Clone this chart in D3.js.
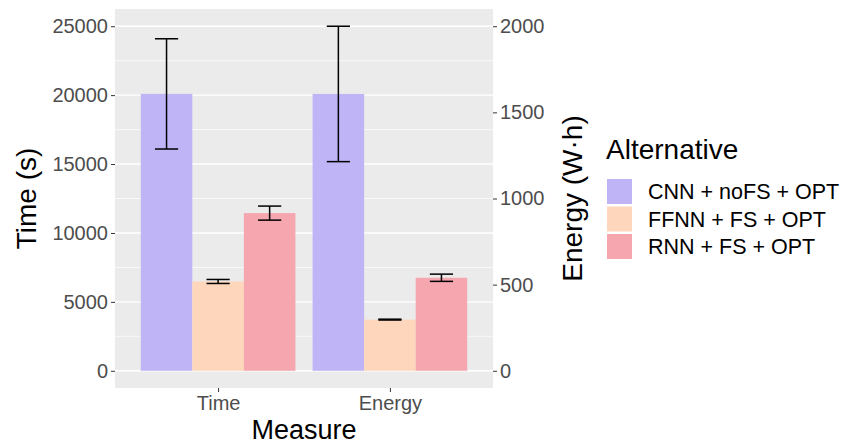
<!DOCTYPE html>
<html>
<head>
<meta charset="utf-8">
<script src="https://cdn.jsdelivr.net/npm/d3@7"></script>
<style>
  body { margin: 0; background: #fff; }
  svg { font-family: "Liberation Sans", Arial, sans-serif; }
</style>
</head>
<body>
<svg id="chart"></svg>
<script>
const width = 845,
      height = 445;

// panel box (pixels)
const PANEL = { LEFT: 115, RIGHT: 493, TOP: 9, BOTTOM: 388 };

// data
const measures = ["Time", "Energy"];
const alternatives = ["CNN + noFS + OPT", "FFNN + FS + OPT", "RNN + FS + OPT"];
const colours = ["#bfb4f6", "#fdd6bb", "#f5a6ae"];
const timeMean = [20090, 6480, 11440];   // seconds
const timeErr  = [4000, 145, 510];
const energyMean = [1607, 297, 540];     // W·h
const energyErr  = [393, 2.5, 21];
const timeTicks = [0, 5000, 10000, 15000, 20000, 25000];
const energyTicks = [0, 500, 1000, 1500, 2000];

const svg = d3.select("#chart").attr("width", width).attr("height", height);

// discrete x like ggplot: categories at 1,2 with 0.6 expansion
const x = d3.scaleLinear().domain([0.4, 2.6]).range([PANEL.LEFT, PANEL.RIGHT]);
const sub = d3.scaleBand().domain(alternatives).range([-0.45, 0.45]);
const yTime = d3.scaleLinear().domain([-1250, 26250]).range([PANEL.BOTTOM, PANEL.TOP]);
const yEnergy = d3.scaleLinear().domain([-100, 2100]).range([PANEL.BOTTOM, PANEL.TOP]);

// panel background + grid
svg.append("rect")
    .attr("x", PANEL.LEFT).attr("y", PANEL.TOP)
    .attr("width", PANEL.RIGHT - PANEL.LEFT).attr("height", PANEL.BOTTOM - PANEL.TOP)
    .attr("fill", "#ebebeb");

const minor = d3.range(2500, 25000, 5000);
svg.append("g").selectAll("line").data(minor).enter().append("line")
    .attr("x1", PANEL.LEFT).attr("x2", PANEL.RIGHT)
    .attr("y1", d => yTime(d)).attr("y2", d => yTime(d))
    .attr("stroke", "#fff").attr("stroke-width", 0.7);
svg.append("g").selectAll("line").data(timeTicks).enter().append("line")
    .attr("x1", PANEL.LEFT).attr("x2", PANEL.RIGHT)
    .attr("y1", d => yTime(d)).attr("y2", d => yTime(d))
    .attr("stroke", "#fff").attr("stroke-width", 1.4);

// rows: one per bar, energy mapped through its own scale
const rows = [];
measures.forEach((m, i) => {
    alternatives.forEach((a, j) => {
        const isTime = m === "Time";
        rows.push({
            measure: m, alt: a, colour: colours[j],
            cx: i + 1 + sub(a) + sub.bandwidth() / 2,
            x0: i + 1 + sub(a),
            y: isTime ? yTime : yEnergy,
            mean: isTime ? timeMean[j] : energyMean[j],
            err: isTime ? timeErr[j] : energyErr[j]
        });
    });
});

const bw = x(sub.bandwidth()) - x(0);
svg.append("g").selectAll("rect").data(rows).enter().append("rect")
    .attr("x", d => x(d.x0))
    .attr("width", bw)
    .attr("y", d => d.y(d.mean))
    .attr("height", d => d.y(0) - d.y(d.mean))
    .attr("fill", d => d.colour);

// error bars
const capHalf = (x(0.0675) - x(0));
const eb = svg.append("g").attr("stroke", "#000").attr("stroke-width", 1.5).attr("fill", "none");
rows.forEach(d => {
    const cx = x(d.cx), top = d.y(d.mean + d.err), bot = d.y(d.mean - d.err);
    eb.append("line").attr("x1", cx).attr("x2", cx).attr("y1", top).attr("y2", bot);
    eb.append("line").attr("x1", cx - capHalf).attr("x2", cx + capHalf).attr("y1", top).attr("y2", top);
    eb.append("line").attr("x1", cx - capHalf).attr("x2", cx + capHalf).attr("y1", bot).attr("y2", bot);
});

// axes
function styleAxis(g) {
    g.select(".domain").remove();
    g.selectAll(".tick line").attr("stroke", "#333").attr("stroke-width", 1);
    g.selectAll(".tick text").attr("fill", "#4d4d4d").style("font-size", "20px")
        .style("font-family", "'Liberation Sans', Arial, sans-serif");
}

svg.append("g").attr("transform", `translate(${PANEL.LEFT},0)`)
    .call(d3.axisLeft(yTime).tickValues(timeTicks).tickFormat(d3.format("d")).tickSize(4).tickPadding(3))
    .call(styleAxis);

svg.append("g").attr("transform", `translate(${PANEL.RIGHT},0)`)
    .call(d3.axisRight(yEnergy).tickValues(energyTicks).tickFormat(d3.format("d")).tickSize(4).tickPadding(3))
    .call(styleAxis);

svg.append("g").attr("transform", `translate(0,${PANEL.BOTTOM})`)
    .call(d3.axisBottom(d3.scaleOrdinal().domain(measures).range(measures.map((m, i) => x(i + 1))))
        .tickSize(4).tickPadding(4))
    .call(styleAxis);

// axis titles
svg.append("text")
    .attr("transform", `translate(36,${(PANEL.TOP + PANEL.BOTTOM) / 2}) rotate(-90)`)
    .attr("text-anchor", "middle").style("font-size", "28px").text("Time (s)");
svg.append("text")
    .attr("transform", `translate(582,${(PANEL.TOP + PANEL.BOTTOM) / 2}) rotate(-90)`)
    .attr("text-anchor", "middle").style("font-size", "28px").text("Energy (W\u00b7h)");
svg.append("text")
    .attr("x", (PANEL.LEFT + PANEL.RIGHT) / 2).attr("y", 439)
    .attr("text-anchor", "middle").style("font-size", "27px").text("Measure");

// legend
const legend = svg.append("g").attr("transform", "translate(606,0)");
legend.append("text").attr("x", 0).attr("y", 159).style("font-size", "28px").text("Alternative");
const items = legend.selectAll("g.item").data(alternatives).enter().append("g")
    .attr("class", "item")
    .attr("transform", (d, i) => `translate(0,${179 + i * 27.5})`);
items.append("rect").attr("x", 1).attr("y", 0).attr("width", 25).attr("height", 25)
    .attr("fill", (d, i) => colours[i]);
items.append("text").attr("x", 42).attr("y", 12.5).attr("dy", "0.35em")
    .style("font-size", "21.5px").text(d => d);
</script>
</body>
</html>
